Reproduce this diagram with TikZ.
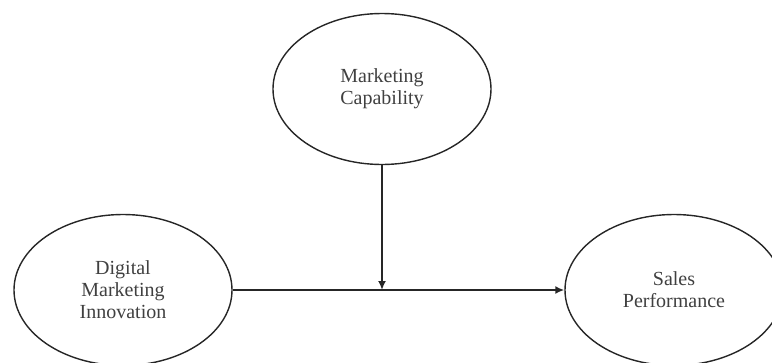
\documentclass[tikz,border=0pt]{standalone}
\usepackage{fontspec}
\setmainfont{Liberation Serif}
\usetikzlibrary{shapes.geometric,arrows.meta}
\begin{document}
\begin{tikzpicture}[x=1pt,y=-1pt,
  construct/.style={ellipse,draw=black!85,line width=1.4pt,minimum width=218pt,minimum height=151pt,
    inner sep=0pt,align=center,text=black!75,font=\fontsize{20}{22}\selectfont},
  link/.style={draw=black!85,line width=1.8pt,-{Latex[length=9pt,width=8pt]}}]
  \useasboundingbox (0,0) rectangle (772,362);
  \node[construct] (dmi) at (123,290) {Digital\\Marketing\\Innovation};
  \node[construct] (mc)  at (382,89)  {Marketing\\Capability};
  \node[construct] (sp)  at (674,290) {Sales\\Performance};
  \draw[link] (dmi.east) -- (sp.west);
  \coordinate (mod) at (mc.south |- dmi.east);
  \draw[link] (mc.south) -- (mod);
\end{tikzpicture}
\end{document}
